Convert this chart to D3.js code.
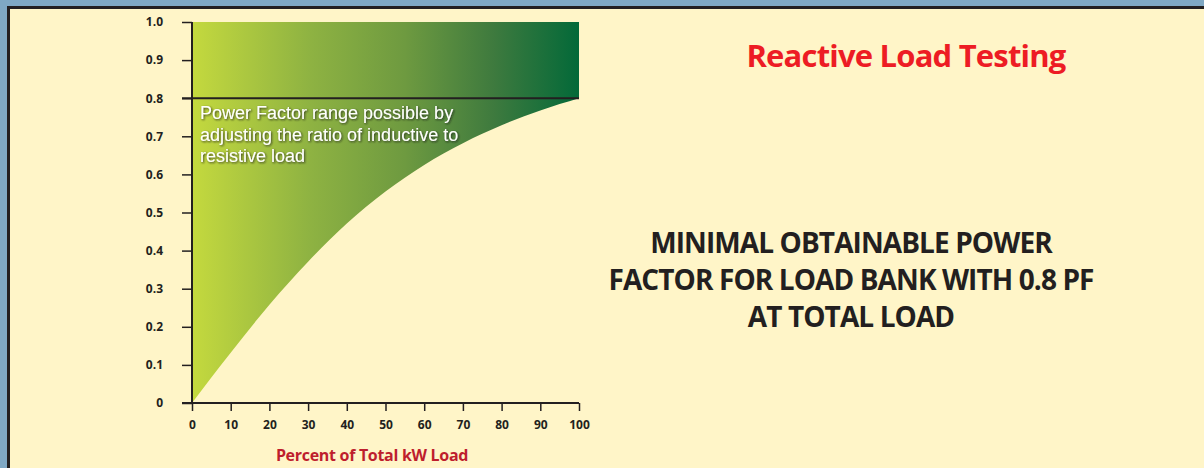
<!DOCTYPE html>
<html>
<head>
<meta charset="utf-8">
<script src="https://cdn.jsdelivr.net/npm/d3@7"></script>
<style>
  html, body { margin: 0; padding: 0; background: #7fa8c4; }
  #chart { width: 1204px; height: 468px; }
</style>
</head>
<body>
<div id="chart"></div>
<script>
// values
let loadPct = [0, 5, 10, 20, 30, 40, 50, 60, 70, 80, 90, 100];
let minPF = [0, 0.067, 0.132, 0.258, 0.371, 0.471, 0.555, 0.625, 0.682, 0.729, 0.768, 0.8];
let xTicks = [0, 10, 20, 30, 40, 50, 60, 70, 80, 90, 100];
let yTicks = [0, 0.1, 0.2, 0.3, 0.4, 0.5, 0.6, 0.7, 0.8, 0.9, 1.0];
let yTickLabels = ["0", "0.1", "0.2", "0.3", "0.4", "0.5", "0.6", "0.7", "0.8", "0.9", "1.0"];
let pfAtTotal = 0.8;
let noteLines = ["Power Factor range possible by", "adjusting the ratio of inductive to", "resistive load"];
let headLines = ["MINIMAL OBTAINABLE POWER", "FACTOR FOR LOAD BANK WITH 0.8 PF", "AT TOTAL LOAD"];

let width = 1204, height = 468;
let svg = d3.select("#chart").append("svg")
  .attr("width", width)
  .attr("height", height);

// panel
svg.append("rect")
  .attr("x", 8.5).attr("y", 7.5)
  .attr("width", width).attr("height", height)
  .attr("fill", "#fff5c8")
  .attr("stroke", "#231f20")
  .attr("stroke-width", 3);

let x = d3.scaleLinear().domain([0, 100]).range([192, 579]);
let y = d3.scaleLinear().domain([0, 1]).range([403, 22]);

let defs = svg.append("defs");
let grad = defs.append("linearGradient")
  .attr("id", "pfGrad")
  .attr("gradientUnits", "userSpaceOnUse")
  .attr("x1", x(0)).attr("x2", x(100))
  .attr("y1", 0).attr("y2", 0);
[[0, "#c4d93e"], [0.3, "#8fb342"], [0.55, "#6e9a40"], [0.78, "#3e7a3e"], [1, "#036939"]]
  .forEach(s => grad.append("stop").attr("offset", s[0]).attr("stop-color", s[1]));

let shadow = defs.append("filter").attr("id", "shadow")
  .attr("x", "-5%").attr("y", "-20%").attr("width", "110%").attr("height", "140%");
shadow.append("feDropShadow")
  .attr("dx", 1).attr("dy", 1).attr("stdDeviation", 0.8)
  .attr("flood-color", "#1a1a1a").attr("flood-opacity", 0.8);

let pts = loadPct.map((d, i) => ({ x: d, pf: minPF[i] }));

let area = d3.area()
  .x(d => x(d.x))
  .y0(d => y(d.pf))
  .y1(y(1))
  .curve(d3.curveMonotoneX);

svg.append("path")
  .datum(pts)
  .attr("d", area)
  .attr("fill", "url(#pfGrad)");

// 0.8 line
svg.append("line")
  .attr("x1", 182).attr("x2", x(100))
  .attr("y1", y(pfAtTotal)).attr("y2", y(pfAtTotal))
  .attr("stroke", "#231f20")
  .attr("stroke-width", 2);

// axes
let yAxis = svg.append("g")
  .attr("transform", `translate(${x(0)},0)`)
  .call(d3.axisLeft(y).tickValues(yTicks).tickSize(10).tickPadding(19)
    .tickFormat((d, i) => yTickLabels[i]));
let xAxis = svg.append("g")
  .attr("transform", `translate(0,${y(0)})`)
  .call(d3.axisBottom(x).tickValues(xTicks).tickSize(8).tickPadding(9));

[yAxis, xAxis].forEach(g => {
  g.select(".domain").attr("stroke", "#231f20").attr("stroke-width", 2);
  g.selectAll(".tick line").attr("stroke", "#231f20").attr("stroke-width", 1.5);
  g.selectAll(".tick text")
    .attr("fill", "#231f20")
    .attr("font-family", "'Open Sans', sans-serif")
    .attr("font-weight", 700)
    .attr("font-size", 12);
});
yAxis.select(".domain").attr("d", `M0,${y(1)}V${y(0)}`);
xAxis.select(".domain").attr("d", `M182,0H${x(100)}`);

svg.append("text")
  .attr("x", 372).attr("y", 461)
  .attr("text-anchor", "middle")
  .attr("fill", "#be1e2d")
  .attr("font-family", "'Open Sans', sans-serif")
  .attr("font-weight", 700)
  .attr("font-size", 16)
  .attr("letter-spacing", -0.3)
  .text("Percent of Total kW Load");

// note inside the area
svg.append("g").attr("filter", "url(#shadow)")
  .selectAll("text")
  .data(noteLines)
  .enter()
  .append("text")
  .attr("x", 200)
  .attr("y", (d, i) => 119 + i * 21.5)
  .attr("fill", "#fff")
  .attr("font-family", "'Liberation Sans', Arial, sans-serif")
  .attr("font-size", 18)
  .text(d => d);

// titles
svg.append("text")
  .attr("x", 906).attr("y", 67)
  .attr("text-anchor", "middle")
  .attr("fill", "#ed1c24")
  .attr("font-family", "'Open Sans', sans-serif")
  .attr("font-weight", 700)
  .attr("font-size", 31)
  .attr("letter-spacing", -0.8)
  .text("Reactive Load Testing");

svg.append("g")
  .selectAll("text")
  .data(headLines)
  .enter()
  .append("text")
  .attr("x", 851)
  .attr("y", (d, i) => 253 + i * 37)
  .attr("text-anchor", "middle")
  .attr("fill", "#231f20")
  .attr("font-family", "'Open Sans', sans-serif")
  .attr("font-weight", 700)
  .attr("font-size", 28)
  .attr("letter-spacing", -0.9)
  .text(d => d);
</script>
</body>
</html>
